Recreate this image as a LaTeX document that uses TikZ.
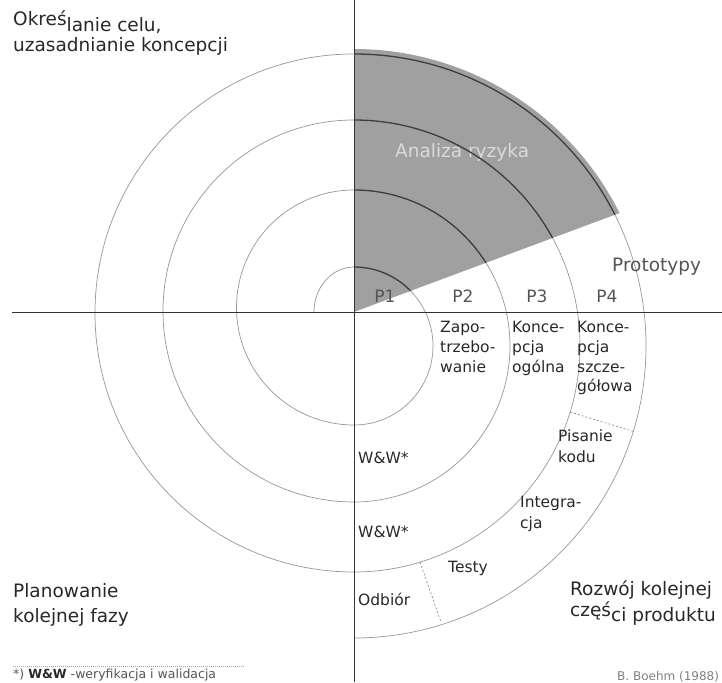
\documentclass[tikz,border=0pt]{standalone}
\usepackage{fontspec}
\setmainfont{DejaVu Sans}
\usepackage{xcolor}
\usetikzlibrary{positioning}

\definecolor{riskgray}{RGB}{160,160,160}
\definecolor{arcgray}{RGB}{150,150,150}
\definecolor{arcdark}{RGB}{62,62,62}
\definecolor{textdark}{RGB}{40,40,40}
\definecolor{textsoft}{RGB}{85,85,85}
\definecolor{textlight}{RGB}{218,218,218}

\newcommand{\spiralarcs}{(-40,0) arc[start angle=180, end angle=90, x radius=40, y radius=45]
    arc[start angle=90, end angle=-90, radius=79]
    arc[start angle=270, end angle=90, radius=117.5]
    arc[start angle=90, end angle=-90, radius=156]
    arc[start angle=270, end angle=90, radius=191]
    arc[start angle=90, end angle=-90, radius=226]
    arc[start angle=270, end angle=90, radius=259]
    arc[start angle=90, end angle=-90, radius=292]}

\begin{document}
\begin{tikzpicture}[
    x=1pt, y=1pt,
    axis/.style={draw=black!80, line width=0.9pt},
    arcline/.style={draw=arcgray, line width=0.7pt},
    arcbold/.style={draw=arcdark, line width=1.3pt},
    divider/.style={draw=gray, line width=0.6pt, dash pattern=on 2pt off 2pt},
    corner/.style={align=left, anchor=base west, inner sep=0pt, text=textdark, font=\fontsize{18.5}{25}\selectfont},
    phase/.style={anchor=base, inner sep=0pt, text=textsoft, font=\fontsize{17}{20}\selectfont},
    task/.style={align=left, anchor=base west, inner sep=0pt, text=textdark, font=\fontsize{15.5}{20}\selectfont},
    small/.style={anchor=base west, inner sep=0pt, text=textsoft, font=\fontsize{12.5}{15}\selectfont}
]
\useasboundingbox (-354,-370) rectangle (368,312);

\fill[riskgray] (0,0) -- (0,263) arc[start angle=90, end angle=26.6, radius=297] -- cycle;
\draw[arcline] \spiralarcs;

\node [corner] (goal) at (-341,260) {\raisebox{6pt}{Okreś}lanie celu,\\[-5pt] uzasadnianie koncepcji};
\node [corner] (plan) at (-341,-310) {Planowanie\\ kolejnej fazy};
\node [corner] (dev) at (216,-309) {Rozwój kolejnej\\[1pt] \raisebox{5pt}{częś}ci produktu};
\node [corner, text=textlight] (risk) at (41,154) {Analiza ryzyka};
\node [corner, text=textsoft] (proto) at (258,40) {Prototypy};

\begin{scope}
\clip (0,0) -- (0,263) arc[start angle=90, end angle=26.6, radius=297] -- cycle;
\draw[arcbold] \spiralarcs;
\end{scope}

\draw[axis] (-342,0) -- (368,0);
\draw[axis] (0,312) -- (0,-370);

\node [phase] (p1) at (31,9) {P1};
\node [phase] (p2) at (109,9) {P2};
\node [phase] (p3) at (183,9) {P3};
\node [phase] (p4) at (253,9) {P4};

\node [task] (req) at (86,-60) {Zapo-\\ trzebo-\\ wanie};
\node [task] (arch) at (158,-60) {Konce-\\ pcja\\ ogólna};
\node [task] (design) at (223,-80) {Konce-\\ pcja\\ szcze-\\ gółowa};
\node [task] (code) at (204,-150) {Pisanie\\[1pt] kodu};
\node [task] (integ) at (166,-216) {Integra-\\[1pt] cja};
\node [task] (vv1) at (4,-151) {W\&W*};
\node [task] (vv2) at (4,-225) {W\&W*};
\node [task] (test) at (94,-260) {Testy};
\node [task] (accept) at (4,-293) {Odbiór};

\coordinate (codeA) at ([shift={(0,-34)}]-17:226);
\coordinate (codeB) at ([shift={(0,-34)}]-17:292);
\coordinate (testA) at ([shift={(0,-34)}]-73:226);
\coordinate (testB) at ([shift={(0,-34)}]-72.5:290);
\draw[divider] (codeA) -- (codeB);
\draw[divider] (testA) -- (testB);

\coordinate (noteL) at (-341,-354);
\coordinate (noteR) at (-109,-354);
\draw[divider, draw=gray!70, dash pattern=on 1pt off 1pt] (noteL) -- (noteR);
\node [small] (note) at (-341,-366) {*) \textbf{\textcolor{textdark}{W\&W}} -weryfikacja i walidacja};
\node [small, font=\fontsize{12}{14}\selectfont, text=gray] (src) at (263,-368) {B. Boehm (1988)};

\end{tikzpicture}
\end{document}
